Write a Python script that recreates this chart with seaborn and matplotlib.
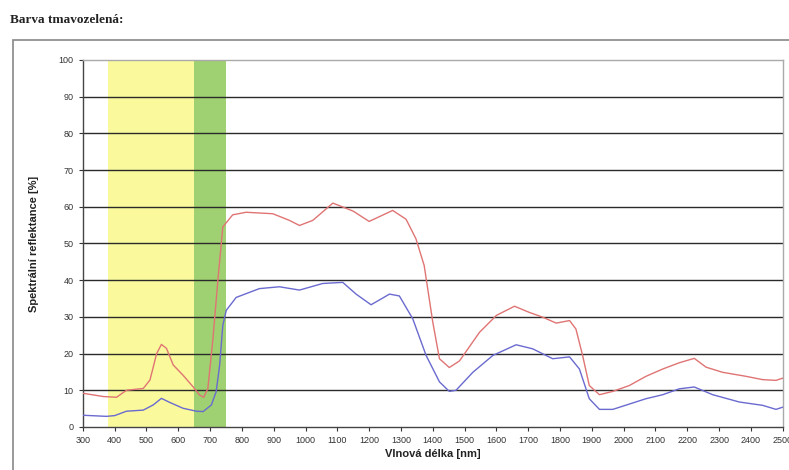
import numpy as np
import pandas as pd
import matplotlib
matplotlib.use("Agg")
import matplotlib.pyplot as plt
import seaborn as sns
from matplotlib.patches import Rectangle

# Spectral reflectance
wl_red = [300, 364, 406, 437, 490, 511, 532, 547, 563, 584, 615, 646, 667, 680, 693,
          709, 725, 740, 771, 813, 897, 949, 981, 1023, 1086, 1150, 1200, 1274, 1316,
          1347, 1373, 1400, 1421, 1452, 1484, 1547, 1600, 1657, 1704, 1746, 1788, 1830,
          1850, 1871, 1892, 1924, 1966, 2018, 2070, 2123, 2175, 2222, 2259, 2311, 2385,
          2437, 2479, 2500]
refl_red = [9.2, 8.3, 8.1, 10.0, 10.5, 12.8, 20.0, 22.5, 21.4, 16.9, 14.1, 11.0, 8.7, 8.1,
            10.5, 24.1, 40.5, 54.5, 57.8, 58.5, 58.1, 56.3, 54.9, 56.3, 61.0, 58.8, 56.0,
            59.0, 56.6, 51.3, 44.0, 28.6, 18.6, 16.2, 18.0, 25.8, 30.4, 32.9, 31.2, 29.9,
            28.3, 29.0, 26.7, 19.5, 11.3, 8.8, 9.7, 11.3, 13.8, 15.8, 17.5, 18.7, 16.3,
            14.9, 13.8, 12.9, 12.7, 13.3]

wl_blue = [300, 374, 400, 437, 490, 521, 547, 573, 615, 657, 678, 704, 719, 730, 740, 751,
           782, 855, 918, 981, 1054, 1117, 1159, 1206, 1264, 1295, 1337, 1379, 1421, 1452,
           1473, 1526, 1589, 1662, 1714, 1777, 1830, 1861, 1892, 1924, 1966, 2070, 2123,
           2175, 2222, 2280, 2364, 2437, 2479, 2500]
refl_blue = [3.2, 2.9, 3.1, 4.3, 4.6, 6.0, 7.8, 6.7, 5.1, 4.3, 4.2, 6.0, 9.6, 16.8, 27.7,
             31.8, 35.3, 37.7, 38.2, 37.3, 39.1, 39.4, 36.2, 33.3, 36.2, 35.7, 29.5, 19.5,
             12.3, 9.7, 10.0, 14.9, 19.5, 22.4, 21.3, 18.6, 19.1, 15.8, 7.7, 4.8, 4.8, 7.7,
             8.8, 10.4, 10.9, 8.8, 6.8, 5.9, 4.8, 5.4]

yellow_band = (380, 650)
green_band = (650, 750)
x_ticks = list(range(300, 2501, 100))
y_ticks = list(range(0, 101, 10))

df = pd.concat([
    pd.DataFrame({"wl": wl_red, "refl": refl_red, "serie": "red"}),
    pd.DataFrame({"wl": wl_blue, "refl": refl_blue, "serie": "blue"}),
])

sns.set_style("white")
plt.rcParams['font.family'] = ['Liberation Sans', 'DejaVu Sans']

fig = plt.figure(figsize=(7.89, 4.70), dpi=100)
ax = fig.add_axes([0.105, 0.0915, 0.887, 0.781])

# outer frame
fig.patches.append(Rectangle((13 / 789, -0.05), 1.0, 0.965, transform=fig.transFigure,
                             fill=False, edgecolor='#888888', linewidth=1.2))
fig.text(0.013, 0.952, "Barva tmavozelená:", family='Liberation Serif',
         fontsize=9.5, fontweight='bold', color='#222222')

ax.axvspan(*yellow_band, color='#fafa9c', zorder=0, lw=0)
ax.axvspan(*green_band, color='#9fd172', zorder=0, lw=0)

for yv in y_ticks[1:-1]:
    ax.axhline(yv, color='#2a2a2a', lw=1.0, zorder=1)

sns.lineplot(data=df, x="wl", y="refl", hue="serie",
             palette={"red": "#e07474", "blue": "#6a6ad0"},
             linewidth=1.0, legend=False, ax=ax, zorder=3)

ax.set_xlim(300, 2500)
ax.set_ylim(0, 100)
ax.set_xticks(x_ticks)
ax.set_yticks(y_ticks)
ax.tick_params(axis='both', labelsize=6.5, colors='#333333', length=3, width=0.8,
               direction='out', left=True, bottom=True)
for s in ['top', 'right']:
    ax.spines[s].set_color('#aaaaaa')
    ax.spines[s].set_linewidth(1.0)
for s in ['left', 'bottom']:
    ax.spines[s].set_color('#444444')
    ax.spines[s].set_linewidth(1.0)

ax.set_xlabel("Vlnová délka [nm]", fontsize=8, fontweight='bold', color='#222222', labelpad=3)
ax.set_ylabel("Spektrální reflektance [%]", fontsize=8, fontweight='bold', color='#222222',
              labelpad=14)

fig.savefig("out.png", dpi=100)
